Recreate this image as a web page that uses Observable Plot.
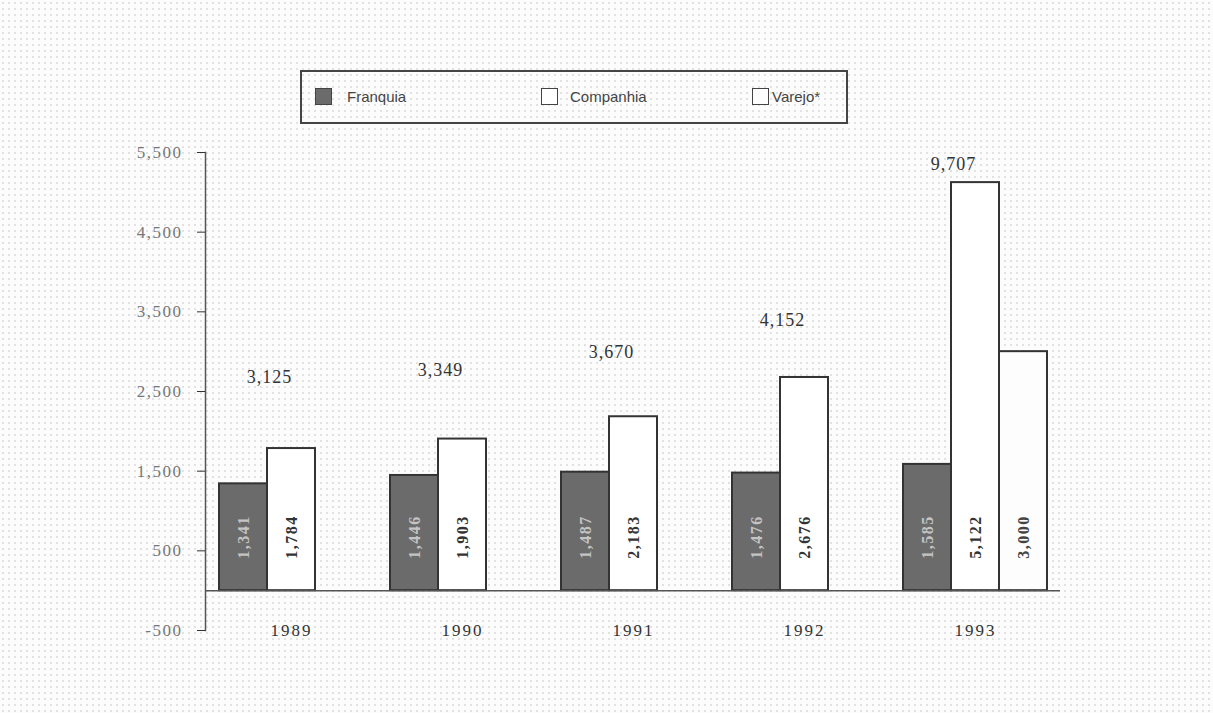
<!DOCTYPE html>
<html>
<head>
<meta charset="utf-8">
<script src="https://cdn.jsdelivr.net/npm/d3@7"></script>
<script src="https://cdn.jsdelivr.net/npm/@observablehq/plot@0.6"></script>
<style>
  html, body { margin: 0; padding: 0; }
  body {
    width: 1213px; height: 713px; overflow: hidden;
    background-color: #fcfcfc;
    background-image: radial-gradient(circle, #e2e2e2 0.9px, transparent 1.1px);
    background-size: 6px 6px;
  }
  #legendArea { position: relative; height: 130px; }
  #legend {
    position: absolute; left: 300px; top: 70px; width: 548px; height: 54px;
    box-sizing: border-box; border: 2px solid #444;
    font-family: "Liberation Sans", Arial, sans-serif; font-size: 15px; color: #444;
  }
  .item { position: absolute; top: 16px; display: flex; align-items: center; }
  .sw { width: 15px; height: 15px; border: 1.5px solid #444; box-sizing: content-box; }
  #chart svg { display: block; }
  g[aria-label="y-axis tick label"] text { letter-spacing: 1.5px; }
  g.year-label text { letter-spacing: 2px; }
  g.total-label text { letter-spacing: 1px; }
  g.bar-label text { letter-spacing: 1.5px; }
</style>
</head>
<body>
<div id="legendArea"><div id="legend"></div></div>
<div id="chart"></div>
<script>
const years = ["1989", "1990", "1991", "1992", "1993"];
const series = ["Franquia", "Companhia", "Varejo*"];
const franquia = [1341, 1446, 1487, 1476, 1585];
const companhia = [1784, 1903, 2183, 2676, 5122];
const varejo = [null, null, null, null, 3000];
const totals = [3125, 3349, 3670, 4152, 9707];
const yTicks = [-500, 500, 1500, 2500, 3500, 4500, 5500];

const fills = {"Franquia": "#6b6b6b", "Companhia": "#ffffff", "Varejo*": "#fdfdfd"};
const labelFills = {"Franquia": "#c4c4c4", "Companhia": "#333", "Varejo*": "#444"};

const rows = [];
years.forEach((yr, i) => {
  [franquia[i], companhia[i], varejo[i]].forEach((v, j) => {
    if (v != null) rows.push({year: yr, series: series[j], value: v});
  });
});
const totalRows = years.map((yr, i) => ({
  year: yr, series: "Companhia", total: totals[i],
  max: Math.max(franquia[i], companhia[i], varejo[i] ?? 0)
}));
const yearRows = years.map(yr => ({year: yr, series: "Companhia"}));

// Legend
const legend = document.getElementById("legend");
const legendPos = [{left: 13, gap: 15}, {left: 239, gap: 12}, {left: 450, gap: 3}];
series.forEach((s, j) => {
  const it = document.createElement("div");
  it.className = "item";
  it.style.left = legendPos[j].left + "px";
  const sw = document.createElement("span");
  sw.className = "sw";
  sw.style.background = fills[s];
  const tx = document.createElement("span");
  tx.textContent = s;
  tx.style.marginLeft = legendPos[j].gap + "px";
  it.appendChild(sw); it.appendChild(tx);
  legend.appendChild(it);
});

const fmt = d3.formatLocale({decimal: ".", thousands: ",", grouping: [3], currency: ["", ""], minus: "-"}).format(",");
const serif = "Liberation Serif, Times New Roman, serif";

const chart = Plot.plot({
  width: 1213,
  height: 560,
  marginLeft: 203,
  marginRight: 152,
  marginTop: 22,
  marginBottom: 60,
  style: {background: "transparent", color: "#333", fontFamily: serif},
  fx: {domain: years, padding: 0, axis: null},
  x: {domain: series, paddingInner: 0, paddingOuter: 0.255, axis: null},
  y: {domain: [-500, 5500], axis: null},
  marks: [
    Plot.barY(rows, {
      fx: "year", x: "series", y: "value",
      fill: d => fills[d.series], stroke: "#333", strokeWidth: 2
    }),
    Plot.ruleY([0], {stroke: "#555", strokeWidth: 1.5}),
    Plot.frame({anchor: "left", facetAnchor: "left", stroke: "#555", strokeWidth: 1.5}),
    Plot.axisY(yTicks, {
      tickFormat: fmt, tickSize: 8, tickPadding: 15,
      fontSize: 17, fill: "#777", label: null
    }),
    Plot.text(rows, {
      fx: "year", x: "series", y: 0,
      text: d => fmt(d.value), rotate: -90, textAnchor: "start", lineAnchor: "middle",
      dy: -32, fontSize: 16, fontWeight: "bold", fill: d => labelFills[d.series],
      className: "bar-label"
    }),
    Plot.text(totalRows, {
      fx: "year", x: "series", y: d => 1250 + 0.8 * d.max,
      text: d => fmt(d.total), dx: -22, fontSize: 18, fill: "#333",
      className: "total-label"
    }),
    Plot.text(yearRows, {
      fx: "year", x: "series", frameAnchor: "bottom", text: "year",
      lineAnchor: "middle", fontSize: 17, fill: "#333", className: "year-label"
    })
  ]
});
document.getElementById("chart").appendChild(chart);
</script>
</body>
</html>
